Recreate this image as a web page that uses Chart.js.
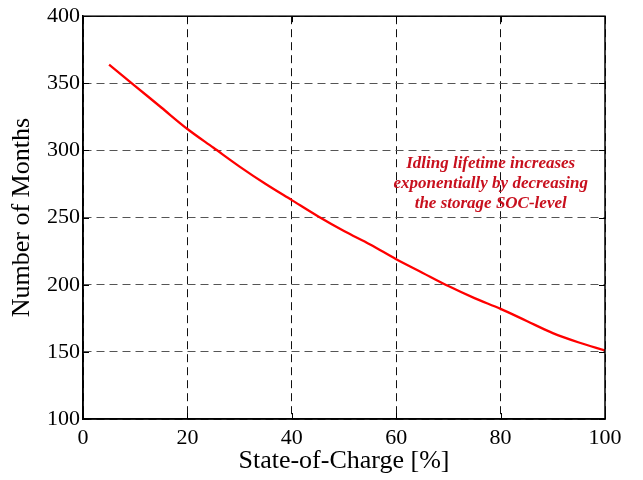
<!DOCTYPE html>
<html>
<head>
<meta charset="utf-8">
<script src="https://cdn.jsdelivr.net/npm/chart.js@4"></script>
<style>
  html, body { margin: 0; padding: 0; background: #fff; }
  #wrap { width: 643px; height: 480px; }
</style>
</head>
<body>
<div id="wrap"><canvas id="c" width="643" height="480"></canvas></div>
<script>
// State of charge [%] and resulting idle lifetime [months]
const soc = [5, 10, 15, 20, 25, 30, 35, 40, 45, 50, 55, 60, 65, 70, 75, 80, 85, 90, 95, 100];
const months = [364, 348, 332, 316, 302, 288, 275, 263, 251, 240, 230, 219, 209, 199, 190, 182, 173, 164, 157, 151];

const xTicks = [0, 20, 40, 60, 80, 100];
const yTicks = [100, 150, 200, 250, 300, 350, 400];

const noteLines = ['Idling lifetime increases', 'exponentially by decreasing', 'the storage SOC-level'];
const noteAt = { x: 78.1, y: 275 };

const serif = '"Liberation Serif", "Times New Roman", serif';

// Frame around the plot plus short inward ticks on all four sides
const frameTicks = {
  id: 'frameTicks',
  afterDatasetsDraw(chart) {
    const { ctx, chartArea: a, scales: { x, y } } = chart;
    ctx.save();
    ctx.strokeStyle = '#000';
    ctx.lineWidth = 1.5;
    ctx.strokeRect(a.left, a.top, a.right - a.left, a.bottom - a.top);
    ctx.lineWidth = 1;
    const len = 6;
    ctx.beginPath();
    xTicks.forEach(v => {
      const px = Math.round(x.getPixelForValue(v)) + 0.5;
      ctx.moveTo(px, a.bottom); ctx.lineTo(px, a.bottom - len);
      ctx.moveTo(px, a.top); ctx.lineTo(px, a.top + len);
    });
    yTicks.forEach(v => {
      const py = Math.round(y.getPixelForValue(v)) + 0.5;
      ctx.moveTo(a.left, py); ctx.lineTo(a.left + len, py);
      ctx.moveTo(a.right, py); ctx.lineTo(a.right - len, py);
    });
    ctx.stroke();
    ctx.restore();
  }
};

// Explanatory note inside the plot
const note = {
  id: 'note',
  afterDatasetsDraw(chart) {
    const { ctx, scales: { x, y } } = chart;
    const cx = x.getPixelForValue(noteAt.x);
    const cy = y.getPixelForValue(noteAt.y);
    const lh = 20;
    ctx.save();
    ctx.fillStyle = '#c8101e';
    ctx.font = 'italic bold 17px ' + serif;
    ctx.textAlign = 'center';
    ctx.textBaseline = 'middle';
    noteLines.forEach((t, i) => {
      ctx.fillText(t, cx, cy + (i - (noteLines.length - 1) / 2) * lh);
    });
    ctx.restore();
  }
};

new Chart(document.getElementById('c'), {
  type: 'line',
  data: {
    datasets: [{
      data: soc.map((v, i) => ({ x: v, y: months[i] })),
      borderColor: '#ff0000',
      borderWidth: 2.3,
      pointRadius: 0,
      fill: false,
      cubicInterpolationMode: 'monotone'
    }]
  },
  options: {
    responsive: false,
    animation: false,
    devicePixelRatio: 1,
    layout: { padding: { top: 15, right: 38, left: 0, bottom: 0 } },
    plugins: { legend: { display: false }, tooltip: { enabled: false } },
    scales: {
      x: {
        type: 'linear',
        min: 0, max: 100,
        afterBuildTicks: s => { s.ticks = xTicks.map(v => ({ value: v })); },
        afterFit: s => { s.height = 61; },
        grid: { color: '#111', lineWidth: 1, drawTicks: false },
        border: { display: true, color: '#000', width: 1.5, dash: [8, 5] },
        ticks: { color: '#000', padding: 6, font: { family: serif, size: 22 }, maxRotation: 0 },
        title: { display: true, text: 'State-of-Charge [%]', color: '#000', font: { family: serif, size: 26 }, padding: { top: 0, bottom: 3 } }
      },
      y: {
        type: 'linear',
        min: 100, max: 400,
        afterBuildTicks: s => { s.ticks = yTicks.map(v => ({ value: v })); },
        afterFit: s => { s.width = 83; },
        grid: { color: '#555', lineWidth: 1, drawTicks: false },
        border: { display: true, color: '#000', width: 1.5, dash: [8, 5] },
        ticks: { color: '#000', padding: 3, font: { family: serif, size: 22 } },
        title: { display: true, text: 'Number of Months', color: '#000', font: { family: serif, size: 26 }, padding: { top: 7, bottom: 0 } }
      }
    }
  },
  plugins: [frameTicks, note]
});
</script>
</body>
</html>
